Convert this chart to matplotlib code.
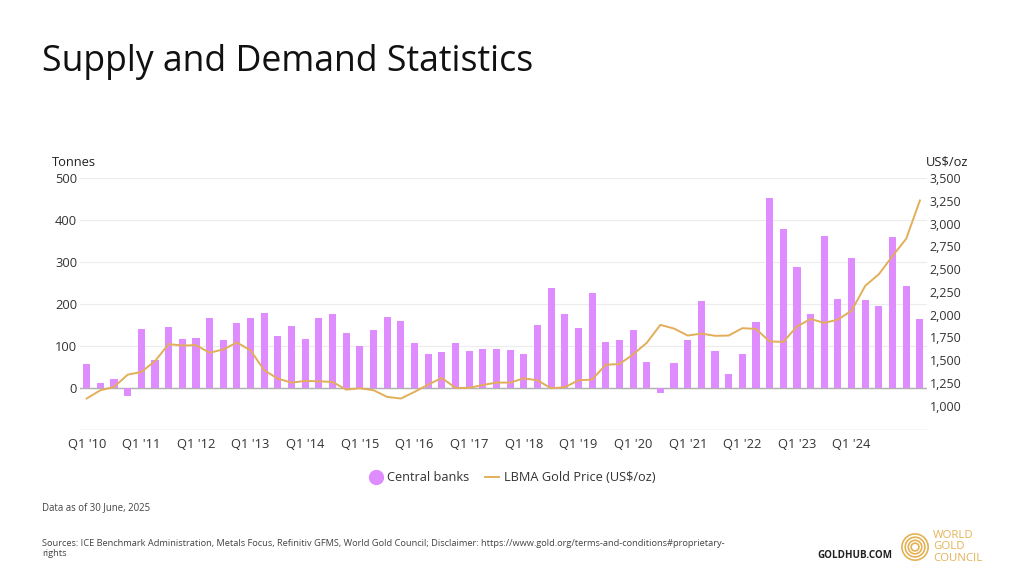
import matplotlib.pyplot as plt
from matplotlib.lines import Line2D
from matplotlib.patches import Circle

plt.rcParams["font.family"] = ["Open Sans", "DejaVu Sans"]

# quarters Q1 '10 .. Q2 '25
quarters = [f"Q{q} '{y:02d}" for y in range(10, 26) for q in range(1, 5)][:62]

central_banks = [
    58, 12, 21, -20, 140, 66, 146, 117, 119, 167, 114, 155, 167, 178, 123, 148,
    116, 167, 175, 132, 100, 138, 169, 160, 108, 81, 86, 108, 89, 92, 94, 90,
    81, 150, 237, 175, 143, 225, 110, 114, 138, 62, -11, 60, 115, 207, 89, 33,
    81, 156, 453, 379, 288, 175, 362, 212, 310, 209, 195, 359, 243, 164,
]

gold_price = [
    1080, 1171, 1207, 1342, 1371, 1491, 1677, 1662, 1666, 1582, 1619, 1695,
    1608, 1389, 1298, 1255, 1273, 1269, 1262, 1178, 1193, 1171, 1098, 1080,
    1153, 1233, 1306, 1197, 1197, 1229, 1255, 1255, 1302, 1280, 1193, 1204,
    1280, 1288, 1451, 1458, 1564, 1691, 1888, 1848, 1771, 1793, 1768, 1771,
    1852, 1844, 1706, 1702, 1870, 1953, 1910, 1946, 2044, 2317, 2445, 2645,
    2834, 3253,
]

left_ticks = [0, 100, 200, 300, 400, 500]
right_ticks = list(range(1000, 3501, 250))

BAR_COLOR = "#DE8CFF"
LINE_COLOR = "#E2AE5A"
GOLD = "#E4B254"
TEXT = "#222222"

fig = plt.figure(figsize=(10.24, 5.76), dpi=100)
ax = fig.add_axes([0.078, 0.2535, 0.827, 0.4375])
ax2 = ax.twinx()

x = list(range(len(quarters)))
ax.bar(x, central_banks, width=0.52, color=BAR_COLOR, zorder=3)
ax2.plot(x, gold_price, color=LINE_COLOR, lw=1.4, zorder=4)

ax.set_xlim(-0.5, len(quarters) - 0.5)
ax.set_ylim(-100, 500)
ax2.set_ylim(735, 3500)

for v in range(-100, 501, 100):
    ax.axhline(v, color="#ececec", lw=0.8, zorder=1)
ax.axhline(-100, color="#d6d6d6", lw=1.0, zorder=1)
ax.axhline(0, color="#b0b0b0", lw=1.0, zorder=2)

ax.set_yticks(left_ticks)
ax.set_yticklabels([str(v) for v in left_ticks])
ax2.set_yticks(right_ticks)
ax2.set_yticklabels([f"{v:,}" for v in right_ticks])
ax.set_xticks(x[::4][:15])
ax.set_xticklabels(quarters[::4][:15])

for a in (ax, ax2):
    for s in a.spines.values():
        s.set_visible(False)
    a.tick_params(length=0, labelsize=9.3, labelcolor="#333333")
ax2.tick_params(labelsize=9)
ax.tick_params(axis="y", pad=2)
ax2.tick_params(axis="y", pad=2)
ax.tick_params(axis="x", pad=6)
ax2.set_zorder(ax.get_zorder() + 1)
ax2.patch.set_visible(False)

# title and axis captions
fig.text(0.041, 0.893, "Supply and Demand Statistics", fontsize=25.7,
         color="#111111", va="center")
fig.text(0.051, 0.718, "Tonnes", fontsize=9.3, color=TEXT, va="center")
fig.text(0.925, 0.718, "US$/oz", fontsize=9.3, color=TEXT, va="center",
         ha="center")

handles = [
    Line2D([], [], marker="o", ls="none", markersize=10, color=BAR_COLOR),
    Line2D([], [], color=LINE_COLOR, lw=1.4),
]
fig.legend(handles, ["Central banks", "LBMA Gold Price (US$/oz)"],
           loc="center", bbox_to_anchor=(0.5, 0.171), ncol=2, frameon=False,
           fontsize=9.2, handlelength=1.1, handletextpad=0.35, columnspacing=1.2,
           labelcolor="#333333")

# footer
fig.text(0.041, 0.118, "Data as of 30 June, 2025", fontsize=6.9, color="#444444",
         va="center")
fig.text(0.041, 0.048,
         "Sources: ICE Benchmark Administration, Metals Focus, Refinitiv GFMS, "
         "World Gold Council; Disclaimer: https://www.gold.org/terms-and-conditions#proprietary-\nrights",
         fontsize=6.7, color="#444444", va="center", linespacing=1.2)
fig.text(0.798, 0.035, "GOLDHUB.COM", fontsize=7.1, fontweight="bold",
         color="#222222", va="center")

logo = fig.add_axes([0.8936 - 0.02, 0.0503 - 0.0356, 0.04, 0.0711])
logo.set_xlim(-1, 1)
logo.set_ylim(-1, 1)
logo.set_aspect("equal")
logo.axis("off")
for r in (0.64, 0.48, 0.33, 0.19):
    logo.add_patch(Circle((0, 0), r, fill=False, ec=GOLD, lw=1.2))
fig.text(0.911, 0.051, "WORLD\nGOLD\nCOUNCIL", fontsize=8.2, color=GOLD,
         va="center", linespacing=1.05)

fig.savefig("out.png", dpi=100)
